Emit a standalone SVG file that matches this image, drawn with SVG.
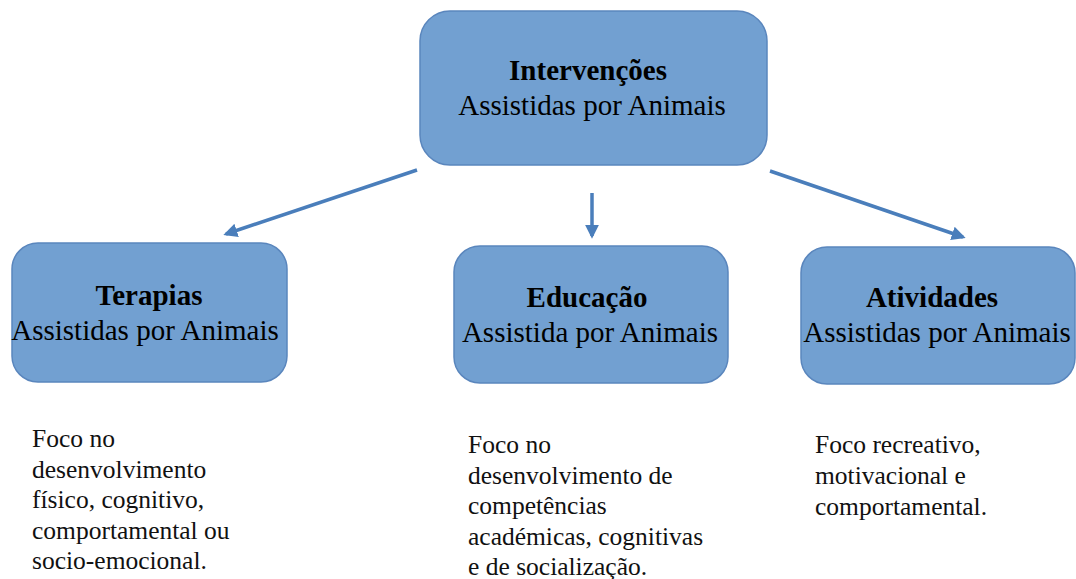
<svg xmlns="http://www.w3.org/2000/svg" width="1076" height="579" viewBox="0 0 1076 579">
<defs>
<style>
.box{fill:#72a0d1;stroke:#5a86bd;stroke-width:1.5}
.t{font-family:"Liberation Serif","Times New Roman",serif;font-size:29px;fill:#000;text-anchor:middle}
.b{font-weight:bold}
.body{font-family:"Liberation Serif","Times New Roman",serif;font-size:25.5px;fill:#111}
.conn{stroke:#4a7ebb;stroke-width:3.5;fill:none;marker-end:url(#ah)}
</style>
<marker id="ah" viewBox="0 0 10 10" refX="8" refY="5" markerWidth="4" markerHeight="4" orient="auto" markerUnits="strokeWidth">
<path d="M0,0 L10,5 L0,10 z" fill="#4a7ebb"/>
</marker>
</defs>
<rect width="1076" height="579" fill="#fff"/>
<g id="connectors">
<line class="conn" x1="417" y1="170" x2="226" y2="234"/>
<line class="conn" x1="592" y1="193" x2="592" y2="236"/>
<line class="conn" x1="770" y1="171" x2="963" y2="237"/>
</g>
<g id="n-intervencoes">
<rect class="box" x="420" y="11" width="347" height="154" rx="30"/>
<text class="t b" x="588" y="80">Intervenções</text>
<text class="t" x="592" y="115">Assistidas por Animais</text>
</g>
<g id="n-terapias">
<rect class="box" x="12" y="243" width="275" height="139" rx="26"/>
<text class="t b" x="149" y="305">Terapias</text>
<text class="t" x="145" y="340">Assistidas por Animais</text>
</g>
<g id="n-educacao">
<rect class="box" x="454" y="246" width="274" height="137" rx="26"/>
<text class="t b" x="587" y="307">Educação</text>
<text class="t" x="590" y="342">Assistida por Animais</text>
</g>
<g id="n-atividades">
<rect class="box" x="801" y="247" width="274" height="137" rx="26"/>
<text class="t b" x="932" y="307">Atividades</text>
<text class="t" x="937" y="342">Assistidas por Animais</text>
</g>
<g id="d-terapias">
<text class="body" x="32" y="447">Foco no</text>
<text class="body" x="32" y="478">desenvolvimento</text>
<text class="body" x="32" y="508">físico, cognitivo,</text>
<text class="body" x="32" y="539">comportamental ou</text>
<text class="body" x="32" y="569">socio-emocional.</text>
</g>
<g id="d-educacao">
<text class="body" x="468" y="453">Foco no</text>
<text class="body" x="468" y="484">desenvolvimento de</text>
<text class="body" x="468" y="514">competências</text>
<text class="body" x="468" y="545">académicas, cognitivas</text>
<text class="body" x="468" y="575">e de socialização.</text>
</g>
<g id="d-atividades">
<text class="body" x="815" y="453">Foco recreativo,</text>
<text class="body" x="815" y="484">motivacional e</text>
<text class="body" x="815" y="515">comportamental.</text>
</g>
</svg>
